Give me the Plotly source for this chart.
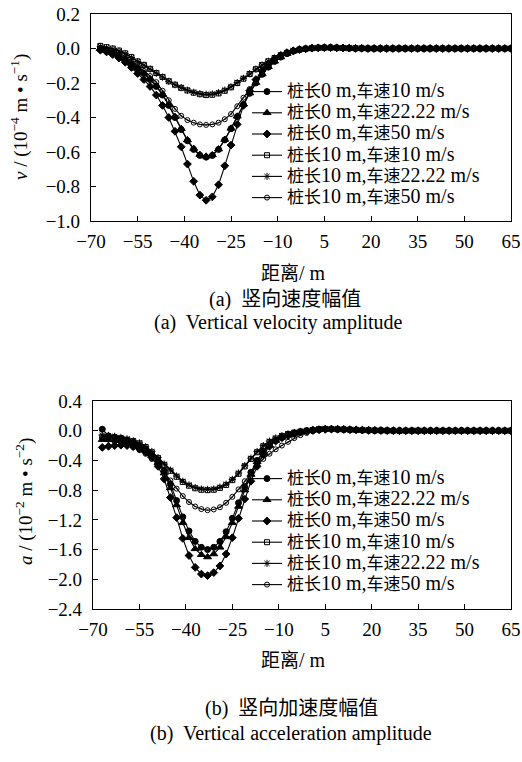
import plotly.graph_objects as go

# ---------------- data ----------------
x_head = [-67, -65, -63, -61, -59, -57, -55, -53, -51, -49, -47, -45, -43, -41, -39, -37, -35, -33,
          -31, -29, -27, -25, -23, -21, -19, -17, -15, -13, -11, -9, -7, -5, -3, -1, 1, 3, 5]
x_tail = [7, 9, 11, 13, 15, 17, 19, 21, 23, 25, 27, 29, 31, 33, 35, 37, 39, 41, 43, 45, 47, 49,
          51, 53, 55, 57, 59, 61, 63, 65]
distance = x_head + x_tail

series_names = ["桩长0 m,车速10 m/s", "桩长0 m,车速22.22 m/s", "桩长0 m,车速50 m/s",
                "桩长10 m,车速10 m/s", "桩长10 m,车速22.22 m/s", "桩长10 m,车速50 m/s"]

# vertical velocity amplitude (1e-4 m/s)
v_tail = [0.005, 0.004, 0.003, 0.002, 0.001, 0.001, 0, 0, 0, 0, 0, 0, 0, 0, 0, 0, 0, 0, 0, 0,
          0, 0, 0, 0, 0, 0, 0, 0, 0, 0]
v_0m_10 = [-0.005, -0.015, -0.03, -0.045, -0.065, -0.09, -0.115, -0.145, -0.18, -0.22, -0.27, -0.33,
           -0.40, -0.47, -0.535, -0.585, -0.62, -0.63, -0.62, -0.585, -0.53, -0.465, -0.395, -0.325,
           -0.26, -0.2, -0.15, -0.108, -0.075, -0.05, -0.03, -0.016, -0.007, -0.002, 0.002, 0.004, 0.005]
v_0m_22 = [0.0, -0.012, -0.027, -0.043, -0.062, -0.087, -0.112, -0.142, -0.177, -0.217, -0.266, -0.326,
           -0.395, -0.465, -0.53, -0.58, -0.615, -0.625, -0.617, -0.583, -0.528, -0.463, -0.393, -0.323,
           -0.258, -0.198, -0.148, -0.106, -0.074, -0.049, -0.03, -0.016, -0.007, -0.002, 0.002, 0.004, 0.005]
v_0m_50 = [-0.01, -0.02, -0.035, -0.055, -0.08, -0.11, -0.145, -0.18, -0.22, -0.27, -0.33, -0.40,
           -0.48, -0.57, -0.67, -0.77, -0.85, -0.88, -0.86, -0.79, -0.68, -0.56, -0.44, -0.33,
           -0.245, -0.18, -0.13, -0.092, -0.062, -0.04, -0.024, -0.013, -0.006, -0.002, 0.002, 0.004, 0.005]
v_10m_10 = [0.015, 0.008, 0.0, -0.012, -0.028, -0.05, -0.075, -0.095, -0.118, -0.142, -0.165, -0.19,
            -0.21, -0.228, -0.243, -0.256, -0.265, -0.27, -0.268, -0.26, -0.245, -0.225, -0.2, -0.175,
            -0.148, -0.12, -0.096, -0.074, -0.055, -0.039, -0.025, -0.014, -0.006, -0.001, 0.002, 0.004, 0.005]
v_10m_22 = [0.012, 0.005, -0.003, -0.015, -0.031, -0.052, -0.076, -0.097, -0.12, -0.143, -0.166, -0.19,
            -0.21, -0.227, -0.242, -0.254, -0.262, -0.266, -0.264, -0.256, -0.242, -0.222, -0.198, -0.173,
            -0.147, -0.12, -0.096, -0.074, -0.055, -0.039, -0.025, -0.014, -0.006, -0.001, 0.002, 0.004, 0.005]
v_10m_50 = [0.005, -0.005, -0.02, -0.038, -0.058, -0.08, -0.103, -0.13, -0.16, -0.195, -0.245, -0.3,
            -0.35, -0.39, -0.415, -0.43, -0.44, -0.443, -0.44, -0.43, -0.41, -0.38, -0.335, -0.285,
            -0.235, -0.185, -0.14, -0.1, -0.068, -0.045, -0.027, -0.014, -0.006, -0.001, 0.002, 0.004, 0.005]

# vertical acceleration amplitude (1e-2 m/s^2)
a_tail = [0.022, 0.02, 0.017, 0.014, 0.011, 0.008, 0.006, 0.004, 0.003, 0.002, 0.001, 0, 0, 0, 0,
          0, 0, 0, 0, 0, 0, 0, 0, 0, 0, 0, 0, 0, 0, 0]
a_0m_10 = [0.02, -0.07, -0.09, -0.11, -0.13, -0.16, -0.2, -0.25, -0.32, -0.41, -0.54, -0.72,
           -0.94, -1.16, -1.35, -1.49, -1.57, -1.60, -1.57, -1.49, -1.36, -1.18, -0.97, -0.76,
           -0.56, -0.4, -0.28, -0.19, -0.13, -0.09, -0.06, -0.035, -0.015, 0.0, 0.01, 0.018, 0.022]
a_0m_22 = [-0.12, -0.12, -0.125, -0.135, -0.15, -0.175, -0.21, -0.26, -0.33, -0.43, -0.57, -0.77,
           -1.0, -1.24, -1.44, -1.59, -1.67, -1.70, -1.66, -1.57, -1.43, -1.24, -1.02, -0.8,
           -0.59, -0.42, -0.29, -0.2, -0.135, -0.09, -0.06, -0.035, -0.015, -0.002, 0.008, 0.015, 0.02]
a_0m_50 = [-0.225, -0.21, -0.2, -0.195, -0.2, -0.215, -0.245, -0.29, -0.36, -0.48, -0.65, -0.9,
           -1.17, -1.45, -1.68, -1.84, -1.93, -1.95, -1.91, -1.82, -1.66, -1.44, -1.18, -0.92,
           -0.68, -0.48, -0.32, -0.21, -0.14, -0.095, -0.065, -0.04, -0.02, -0.006, 0.005, 0.013, 0.018]
a_10m_10 = [-0.08, -0.08, -0.09, -0.1, -0.12, -0.14, -0.17, -0.22, -0.29, -0.37, -0.46, -0.54,
            -0.62, -0.69, -0.74, -0.775, -0.795, -0.80, -0.795, -0.77, -0.73, -0.665, -0.58, -0.48,
            -0.38, -0.29, -0.21, -0.15, -0.105, -0.07, -0.045, -0.025, -0.01, 0.0, 0.01, 0.02, 0.025]
a_10m_22 = [-0.06, -0.065, -0.075, -0.09, -0.11, -0.135, -0.165, -0.215, -0.28, -0.36, -0.45, -0.53,
            -0.61, -0.68, -0.73, -0.765, -0.785, -0.79, -0.785, -0.76, -0.72, -0.655, -0.57, -0.47,
            -0.37, -0.28, -0.2, -0.14, -0.1, -0.068, -0.043, -0.024, -0.01, 0.0, 0.01, 0.02, 0.025]
a_10m_50 = [-0.1, -0.12, -0.14, -0.16, -0.19, -0.22, -0.26, -0.31, -0.38, -0.46, -0.56, -0.67,
            -0.78, -0.88, -0.96, -1.02, -1.055, -1.07, -1.06, -1.03, -0.97, -0.89, -0.79, -0.68,
            -0.57, -0.47, -0.38, -0.31, -0.25, -0.2, -0.15, -0.1, -0.06, -0.03, -0.01, 0.005, 0.015]

x_ticks = [-70, -55, -40, -25, -10, 5, 20, 35, 50, 65]

v_series = [v_0m_10, v_0m_22, v_0m_50, v_10m_10, v_10m_22, v_10m_50]
a_series = [a_0m_10, a_0m_22, a_0m_50, a_10m_10, a_10m_22, a_10m_50]
for s in v_series + a_series:
    if len(s) != len(x_head):
        raise ValueError("length mismatch %d" % len(s))

# ---------------- styling ----------------
W, H = 522, 762
FONT = "Liberation Serif, Noto Sans CJK SC, serif"
symbols = ["circle", "triangle-up", "diamond", "square-open", "asterisk-open", "circle-open-dot"]
sizes = [6, 7, 6, 5, 6, 5]


def px(v):
    return v / W


def py(v):
    return 1 - v / H


def mixed(text, cjk_size, latin_size):
    """Wrap CJK and Latin runs in spans of their own size."""
    out, run, run_cjk = [], "", None
    for ch in text:
        is_cjk = ord(ch) >= 0x2E80
        if run and is_cjk != run_cjk:
            out.append((run, run_cjk))
            run = ""
        run += ch
        run_cjk = is_cjk
    if run:
        out.append((run, run_cjk))
    return "".join('<span style="font-size:%dpx">%s</span>' % (cjk_size if c else latin_size, r)
                   for r, c in out)


fig = go.Figure()
for i, (name, vals) in enumerate(zip(series_names, v_series)):
    fig.add_trace(go.Scatter(
        x=distance, y=vals + v_tail, name=mixed(name, 17, 20), mode="lines+markers",
        line=dict(color="black", width=1.1),
        marker=dict(symbol=symbols[i], size=sizes[i], color="black",
                    line=dict(color="black", width=1)),
        xaxis="x", yaxis="y", legend="legend"))
for i, (name, vals) in enumerate(zip(series_names, a_series)):
    fig.add_trace(go.Scatter(
        x=distance, y=vals + a_tail, name=mixed(name, 17, 20), mode="lines+markers",
        line=dict(color="black", width=1.1),
        marker=dict(symbol=symbols[i], size=sizes[i], color="black",
                    line=dict(color="black", width=1)),
        xaxis="x2", yaxis="y2", legend="legend2"))

axis_common = dict(showline=True, linecolor="black", linewidth=1.2, mirror=True,
                   ticks="inside", ticklen=5, tickcolor="black", showgrid=False,
                   zeroline=False, automargin=False,
                   tickfont=dict(family=FONT, size=19, color="black"))

legend_common = dict(xanchor="left", yanchor="top", bgcolor="rgba(0,0,0,0)",
                     font=dict(family=FONT, size=14, color="black"),
                     itemwidth=30, tracegroupgap=0, borderwidth=0)

fig.update_layout(
    template="none",
    width=W, height=H, margin=dict(l=0, r=0, t=0, b=0, pad=0),
    paper_bgcolor="white", plot_bgcolor="white",
    font=dict(family=FONT, size=17, color="black"),
    xaxis=dict(domain=[px(91), px(511)], range=[-70, 65], tickvals=x_ticks,
               anchor="y", ticklabelstandoff=3, **axis_common),
    yaxis=dict(domain=[py(221), py(14)], range=[-1.0, 0.2], dtick=0.2, tick0=0,
               tickformat=".1f", anchor="x", ticklabelstandoff=6, **axis_common),
    xaxis2=dict(domain=[px(93), px(511)], range=[-70, 65], tickvals=x_ticks,
                anchor="y2", ticklabelstandoff=3, **axis_common),
    yaxis2=dict(domain=[py(609), py(401)], range=[-2.4, 0.4], dtick=0.4, tick0=0,
                tickformat=".1f", anchor="x2", ticklabelstandoff=6, **axis_common),
    legend=dict(x=px(247), y=py(76), **legend_common),
    legend2=dict(x=px(247), y=py(463), **legend_common),
    showlegend=True,
)


def ann(text, x, y, size=16, angle=0):
    fig.add_annotation(text=text, x=px(x), y=py(y), xref="paper", yref="paper",
                       showarrow=False, textangle=angle, xanchor="center", yanchor="middle",
                       font=dict(family=FONT, size=size, color="black"))


ann("<i>v</i> / (10<sup>−4</sup> m • s<sup>−1</sup>)", 20, 117, size=19, angle=-90)
ann(mixed("距离/ m", 19, 20), 293, 273, size=19)
ann(mixed("(a)  竖向速度幅值", 20, 20), 285, 299, size=20)
ann("(a)  Vertical velocity amplitude", 278, 322, size=20)

ann("<i>a</i> / (10<sup>−2</sup> m • s<sup>−2</sup>)", 24, 502, size=19, angle=-90)
ann(mixed("距离/ m", 19, 20), 293, 660, size=19)
ann(mixed("(b)  竖向加速度幅值", 20, 20), 291, 708, size=20)
ann("(b)  Vertical acceleration amplitude", 291, 733, size=20)

fig.write_html("out.html", config={"displayModeBar": False},
               post_script="document.body.style.margin='0';")
